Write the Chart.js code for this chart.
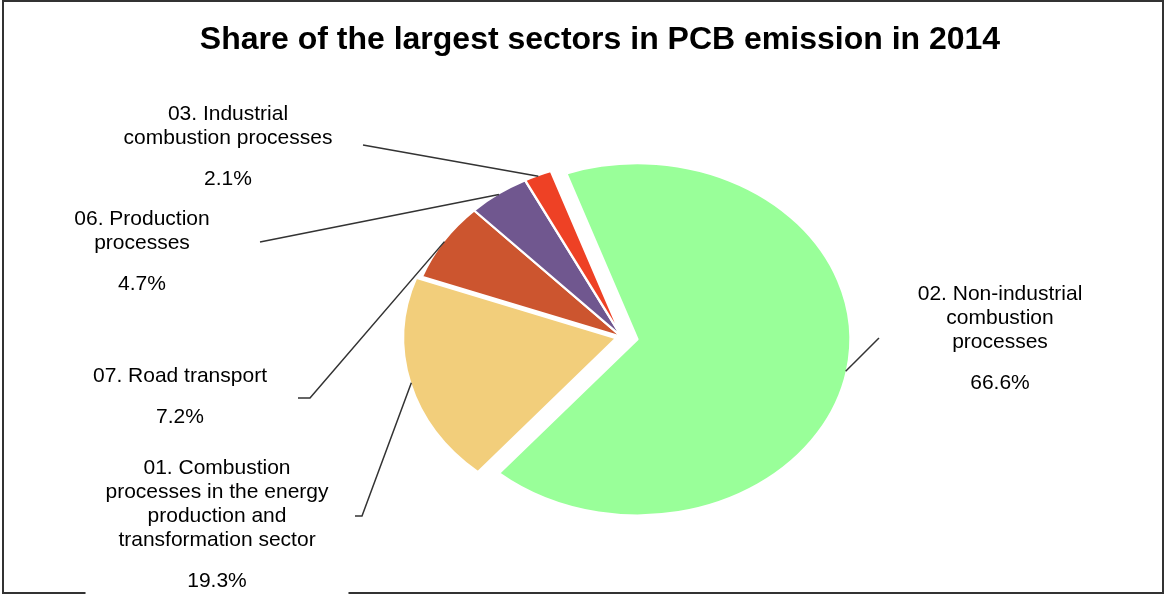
<!DOCTYPE html>
<html>
<head>
<meta charset="utf-8">
<script src="https://cdn.jsdelivr.net/npm/chart.js@4.4.0/dist/chart.umd.min.js"></script>
<style>
  html, body { margin: 0; padding: 0; background: #fff; }
  #wrap { width: 1164px; height: 596px; position: relative; }
</style>
</head>
<body>
<div id="wrap"><canvas id="chart"></canvas></div>
<script>
// data, sorted descending as in the original
const categories = [
  '02. Non-industrial combustion processes',
  '01. Combustion processes in the energy production and transformation sector',
  '07. Road transport',
  '06. Production processes',
  '03. Industrial combustion processes'
];
const labelLines = [
  ['02. Non-industrial', 'combustion', 'processes'],
  ['01. Combustion', 'processes in the energy', 'production and', 'transformation sector'],
  ['07. Road transport'],
  ['06. Production', 'processes'],
  ['03. Industrial', 'combustion processes']
];
const shares = [66.6, 19.3, 7.2, 4.7, 2.1];
const colors = ['#99ff99', '#f2ce7b', '#cc552f', '#70578f', '#ee4125'];

// look
const explode = [13, 5, 0, 0, 0];
const xStretch = 1.21;
const labelPos = [
  { x: 1000, y: 300, from: [879, 338] },
  { x: 217, y: 474, from: [355, 516], elbow: [362, 516] },
  { x: 180, y: 382, from: [298, 398], elbow: [310, 398] },
  { x: 142, y: 225, from: [260, 242] },
  { x: 228, y: 120, from: [363, 145] }
];
const font = '"Liberation Sans", Arial, sans-serif';

const pieLook = {
  id: 'pieLook',
  beforeDraw(chart) {
    const ctx = chart.ctx;
    ctx.save();
    ctx.fillStyle = '#fff';
    ctx.fillRect(0, 0, chart.width, chart.height);
    ctx.strokeStyle = '#333';
    ctx.lineWidth = 2;
    ctx.strokeRect(3, 1, 1160, 592);
    ctx.restore();
  },
  beforeDatasetsDraw(chart) {
    const ctx = chart.ctx;
    chart.getDatasetMeta(0).data.forEach((arc, i) => {
      const mid = (arc.startAngle + arc.endAngle) / 2;
      ctx.save();
      ctx.translate(arc.x, arc.y);
      ctx.scale(xStretch, 1);
      ctx.translate(-arc.x, -arc.y);
      ctx.translate(Math.cos(mid) * explode[i], Math.sin(mid) * explode[i]);
      arc.draw(ctx);
      ctx.restore();
    });
    return false;
  },
  afterDraw(chart) {
    const ctx = chart.ctx;
    ctx.save();
    // title
    ctx.fillStyle = '#000';
    ctx.textAlign = 'center';
    ctx.textBaseline = 'alphabetic';
    ctx.font = 'bold 32px ' + font;
    ctx.fillText('Share of the largest sectors in PCB emission in 2014', 600, 49);

    chart.getDatasetMeta(0).data.forEach((arc, i) => {
      const mid = (arc.startAngle + arc.endAngle) / 2;
      const r = arc.outerRadius + explode[i] - 1;
      const ax = arc.x + xStretch * Math.cos(mid) * r;
      const ay = arc.y + Math.sin(mid) * r;
      const p = labelPos[i];
      const lines = labelLines[i];
      const pctY = p.y + (lines.length - 1) * 24 + 41;

      // white box behind the label
      ctx.font = '21px ' + font;
      let w = 0;
      lines.forEach(t => { w = Math.max(w, ctx.measureText(t).width); });
      ctx.fillStyle = '#fff';
      ctx.fillRect(p.x - w / 2 - 20, p.y - 20, w + 40, pctY - p.y + 30);

      // leader line
      ctx.strokeStyle = '#333';
      ctx.lineWidth = 1.5;
      ctx.beginPath();
      ctx.moveTo(p.from[0], p.from[1]);
      if (p.elbow) ctx.lineTo(p.elbow[0], p.elbow[1]);
      ctx.lineTo(ax, ay);
      ctx.stroke();

      ctx.fillStyle = '#000';
      lines.forEach((t, k) => ctx.fillText(t, p.x, p.y + k * 24));
      ctx.fillText(shares[i].toFixed(1) + '%', p.x, pctY);
    });
    ctx.restore();
  }
};

new Chart(document.getElementById('chart'), {
  type: 'pie',
  data: {
    labels: categories,
    datasets: [{
      data: shares,
      backgroundColor: colors,
      borderColor: '#fff',
      borderWidth: 2
    }]
  },
  options: {
    responsive: true,
    maintainAspectRatio: false,
    devicePixelRatio: 1,
    animation: false,
    events: [],
    rotation: -19.5,
    radius: 176,
    layout: { padding: { left: 80, right: 0, top: 78, bottom: 0 } },
    plugins: {
      legend: { display: false },
      title: { display: false },
      tooltip: { enabled: false }
    }
  },
  plugins: [pieLook]
});
</script>
</body>
</html>
